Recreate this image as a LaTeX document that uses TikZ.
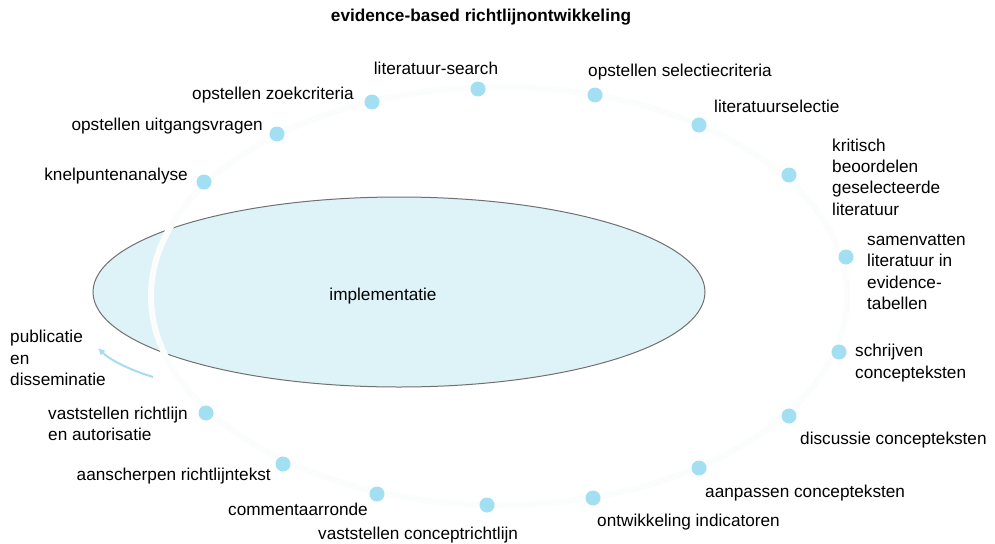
\documentclass[tikz,border=0pt]{standalone}
\usepackage{fontspec}
\setmainfont{Liberation Sans}
\usetikzlibrary{shapes.geometric,arrows.meta}
\definecolor{implfill}{HTML}{DEF3F8}
\definecolor{implline}{HTML}{707070}
\definecolor{stepdot}{HTML}{A3DFF2}
\definecolor{ringcol}{HTML}{FBFCFC}
\definecolor{arrowcol}{HTML}{A6DCF0}
\begin{document}
\begin{tikzpicture}[x=1pt,y=-1pt,
  lbl/.style={inner sep=0pt,font=\fontsize{17.2}{21.3}\selectfont},
  lblL/.style={lbl,anchor=west,align=left},
  lblR/.style={lbl,anchor=east,align=left},
  dotnode/.style={circle,fill=stepdot,minimum size=15pt,inner sep=0pt}]
\useasboundingbox (0,0) rectangle (995,543);
\fill[white] (0,0) rectangle (995,543);

% title
\node[lbl,font=\fontsize{17.2}{21.3}\selectfont\bfseries] (title) at (481,17) {evidence-based richtlijnontwikkeling};

% central ellipse
\node[ellipse,draw=implline,line width=1pt,fill=implfill,
      minimum width=612pt,minimum height=190pt,inner sep=0pt] (impl) at (399,292) {};
\node[lbl] (impltxt) at (383,296) {implementatie};

% faint cycle ring
\draw[ringcol,line width=6pt] (499,296) ellipse [x radius=348,y radius=209];

% steps of the cycle
\node[dotnode] (d1) at (204,182) {};
\node[dotnode] (d2) at (277,134) {};
\node[dotnode] (d3) at (372,102) {};
\node[dotnode] (d4) at (478,89) {};
\node[dotnode] (d5) at (595,95) {};
\node[dotnode] (d6) at (699,125) {};
\node[dotnode] (d7) at (789,175) {};
\node[dotnode] (d8) at (846,257) {};
\node[dotnode] (d9) at (839,352) {};
\node[dotnode] (d10) at (789,416) {};
\node[dotnode] (d11) at (699,468) {};
\node[dotnode] (d12) at (593,498) {};
\node[dotnode] (d13) at (487,505) {};
\node[dotnode] (d14) at (377,494) {};
\node[dotnode] (d15) at (283,464) {};
\node[dotnode] (d16) at (206,413) {};

% labels
\node[lblR] (l1) at (188,176) {knelpuntenanalyse};
\node[lblR] (l2) at (263,126) {opstellen uitgangsvragen};
\node[lblR] (l3) at (354,95) {opstellen zoekcriteria};
\node[lbl] (l4) at (436,68) {literatuur-search};
\node[lblL] (l5) at (588,72) {opstellen selectiecriteria};
\node[lblL] (l6) at (714,106) {literatuurselectie};
\node[lblL] (l7) at (832,177) {kritisch\\beoordelen\\geselecteerde\\literatuur};
\node[lblL] (l8) at (867,272) {samenvatten\\literatuur in\\evidence-\\tabellen};
\node[lblL] (l9) at (855,363) {schrijven\\concepteksten};
\node[lblL] (l10) at (800,440) {discussie concepteksten};
\node[lblL] (l11) at (705,493) {aanpassen concepteksten};
\node[lblL] (l12) at (597,522) {ontwikkeling indicatoren};
\node[lblL] (l13) at (318,535) {vaststellen conceptrichtlijn};
\node[lblR] (l14) at (368,509) {commentaarronde};
\node[lblR] (l15) at (271,476) {aanscherpen richtlijntekst};
\node[lblL] (l16) at (48,424) {vaststellen richtlijn\\en autorisatie};
\node[lblL] (l17) at (10,358) {publicatie\\en\\disseminatie};

% direction of the cycle
\coordinate (arrS) at (153,377);
\coordinate (arrE) at (98,348);
\draw[arrowcol,line width=2pt,-{Latex[length=7pt,width=7pt]}]
  (arrS) .. controls (130,370) and (110,360) .. (arrE);
\end{tikzpicture}
\end{document}
